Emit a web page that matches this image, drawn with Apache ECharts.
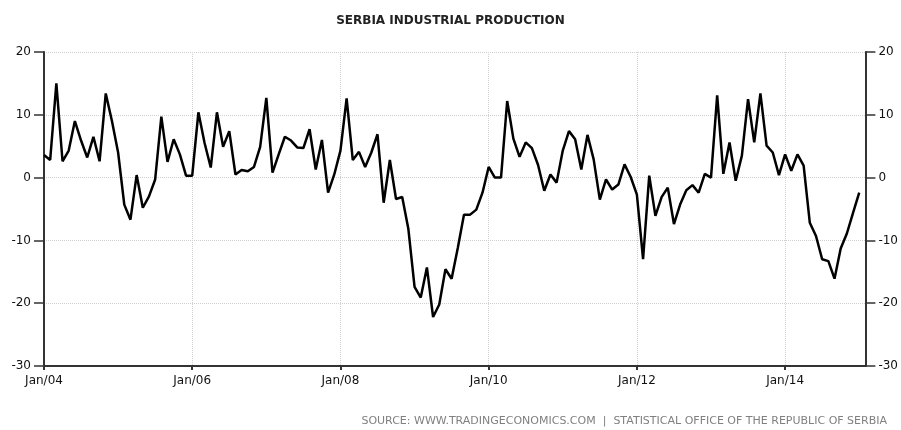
<!DOCTYPE html>
<html>
<head>
<meta charset="utf-8">
<script src="https://cdn.jsdelivr.net/npm/echarts@6/dist/echarts.min.js"></script>
<style>
  html, body { margin: 0; padding: 0; background: #fff; }
  #main { width: 901px; height: 430px; }
</style>
</head>
<body>
<div id="main"></div>
<script>
// monthly yoy change, Jan 2004 - Jan 2015
var values = [
  3.6, 2.8, 15.0, 2.6, 4.3, 9.0, 5.9, 3.2, 6.5, 2.6, 13.4, 9.0,
  4.0, -4.3, -6.7, 0.4, -4.8, -3.0, -0.3, 9.7, 2.5, 6.1, 3.7, 0.3,
  0.3, 10.4, 5.5, 1.6, 10.4, 4.9, 7.4, 0.5, 1.2, 1.0, 1.7, 4.9,
  12.7, 0.8, 3.7, 6.5, 5.9, 4.8, 4.7, 7.7, 1.3, 6.0, -2.4, 0.5,
  4.3, 12.6, 2.8, 4.1, 1.7, 4.0, 6.9, -4.0, 2.8, -3.4, -3.1, -8.2,
  -17.4, -19.1, -14.3, -22.2, -20.2, -14.6, -16.1, -11.2, -5.9, -5.9, -5.1, -2.4,
  1.7, 0.0, 0.0, 12.2, 6.2, 3.3, 5.6, 4.7, 2.0, -2.1, 0.5, -0.8,
  4.3, 7.4, 6.1, 1.3, 6.8, 2.9, -3.5, -0.3, -1.9, -1.1, 2.1, 0.1,
  -2.7, -13.0, 0.3, -6.1, -3.1, -1.6, -7.4, -4.3, -2.0, -1.2, -2.4, 0.6,
  0.0, 13.1, 0.6, 5.6, -0.5, 3.5, 12.5, 5.6, 13.4, 5.1, 4.0, 0.4,
  3.7, 1.1, 3.7, 1.9, -7.2, -9.3, -13.0, -13.3, -16.1, -11.3, -8.9, -5.6,
  -2.4
];

var monthNames = ['Jan', 'Feb', 'Mar', 'Apr', 'May', 'Jun', 'Jul', 'Aug', 'Sep', 'Oct', 'Nov', 'Dec'];
var startYear = 2004;
var monthCount = 134; // Jan/04 .. Feb/15, axis runs a little past the last point

var categories = [];
for (var i = 0; i < monthCount; i++) {
  var y = startYear + Math.floor(i / 12);
  categories.push(monthNames[i % 12] + '/' + String(y).slice(2));
}

function everyTwoYears(index) {
  return index % 24 === 0;
}

var font = 'DejaVu Sans, Verdana, sans-serif';
var axisColor = '#333';
var gridColor = '#d0d0d0';

var myChart = echarts.init(document.getElementById('main'));

var option = {
  animation: false,
  backgroundColor: '#fff',
  title: {
    text: 'SERBIA INDUSTRIAL PRODUCTION',
    left: 'center',
    top: 10,
    textStyle: { fontFamily: font, fontSize: 12, fontWeight: 'bold', color: '#222' }
  },
  graphic: [{
    type: 'text',
    right: 14,
    bottom: 3,
    style: {
      text: 'SOURCE: WWW.TRADINGECONOMICS.COM  |  STATISTICAL OFFICE OF THE REPUBLIC OF SERBIA',
      font: '11px DejaVu Sans',
      fill: '#808080'
    }
  }],
  grid: { left: 44, right: 34, top: 52, bottom: 64, containLabel: false },
  xAxis: {
    type: 'category',
    data: categories,
    boundaryGap: false,
    axisLine: { onZero: false, lineStyle: { color: axisColor, width: 2 } },
    axisTick: { interval: everyTwoYears, length: 4, lineStyle: { color: axisColor, width: 2 } },
    axisLabel: {
      interval: everyTwoYears,
      margin: 9,
      fontFamily: font,
      fontSize: 12,
      color: '#111'
    },
    splitLine: {
      show: true,
      interval: everyTwoYears,
      lineStyle: { color: gridColor, type: 'dotted', width: 1 }
    }
  },
  yAxis: [{
    type: 'value',
    position: 'left',
    min: -30,
    max: 20,
    interval: 10,
    axisLine: { show: true, onZero: false, lineStyle: { color: axisColor, width: 2 } },
    axisTick: { show: true, length: 10, lineStyle: { color: axisColor, width: 1.5 } },
    axisLabel: { margin: 13, fontFamily: font, fontSize: 12, color: '#111' },
    splitLine: { show: true, lineStyle: { color: gridColor, type: 'dotted', width: 1 } }
  }, {
    type: 'value',
    position: 'right',
    min: -30,
    max: 20,
    interval: 10,
    axisLine: { show: true, onZero: false, lineStyle: { color: axisColor, width: 2 } },
    axisTick: { show: true, length: 10, lineStyle: { color: axisColor, width: 1.5 } },
    axisLabel: { margin: 13, fontFamily: font, fontSize: 12, color: '#111' },
    splitLine: { show: false }
  }],
  series: [{
    name: 'Industrial Production',
    type: 'line',
    data: values,
    yAxisIndex: 0,
    showSymbol: false,
    lineStyle: { color: '#000', width: 2.5 },
    itemStyle: { color: '#000' }
  }]
};

myChart.setOption(option);
</script>
</body>
</html>
